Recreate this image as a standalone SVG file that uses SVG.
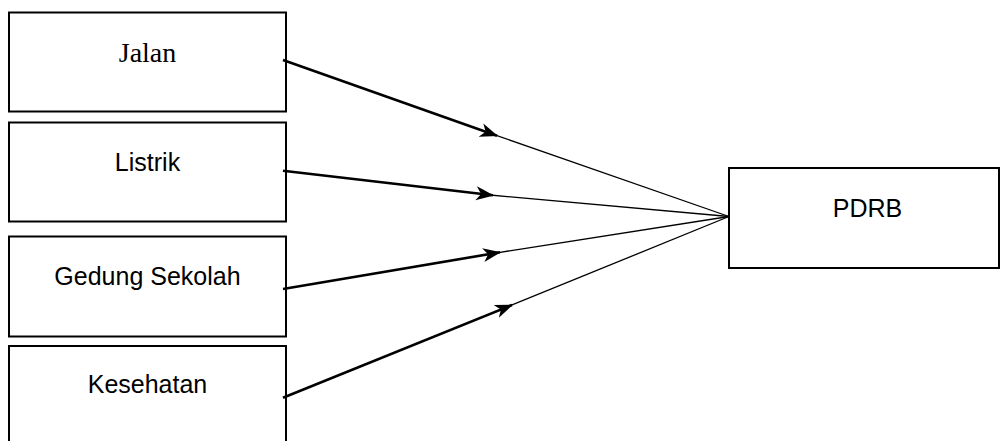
<svg xmlns="http://www.w3.org/2000/svg" width="1001" height="441" viewBox="0 0 1001 441">
<style>
.box{fill:#fff;stroke:#000;stroke-width:2}
.sans{font-family:"Liberation Sans",Arial,sans-serif;font-size:25px;fill:#000}
.serif{font-family:"Liberation Serif","Times New Roman",serif;font-size:28px;fill:#000}
.thick{stroke:#000;stroke-width:2.6;fill:none}
.thin{stroke:#000;stroke-width:1.3;fill:none}
</style>
<defs>
<marker id="arr" markerUnits="userSpaceOnUse" markerWidth="20" markerHeight="16" refX="17" refY="7" orient="auto">
<path d="M0,0 L18,7 L0,14 L5,7 Z" fill="#000"/>
</marker>
</defs>
<rect width="1001" height="441" fill="#fff"/>
<g id="jalan">
<rect class="box" x="9" y="12.5" width="277" height="99"/>
<text class="serif" x="147.5" y="62" text-anchor="middle">Jalan</text>
</g>
<g id="listrik">
<rect class="box" x="9" y="122.5" width="277" height="99"/>
<text class="sans" x="147.5" y="171" text-anchor="middle">Listrik</text>
</g>
<g id="gedung">
<rect class="box" x="9" y="236.5" width="277" height="100"/>
<text class="sans" x="147.5" y="285" text-anchor="middle">Gedung Sekolah</text>
</g>
<g id="kesehatan">
<rect class="box" x="9" y="346" width="277" height="100"/>
<text class="sans" x="147.5" y="393" text-anchor="middle">Kesehatan</text>
</g>
<g id="pdrb">
<rect class="box" x="729" y="168" width="270" height="100"/>
<text class="sans" x="867.5" y="217" text-anchor="middle">PDRB</text>
</g>
<g id="connectors">
<line class="thick" x1="283" y1="60" x2="497" y2="135.7" marker-end="url(#arr)"/>
<line class="thin" x1="494" y1="134.6" x2="729" y2="216.5"/>
<line class="thick" x1="283" y1="170.7" x2="493" y2="195.3" marker-end="url(#arr)"/>
<line class="thin" x1="490" y1="195" x2="729" y2="216.5"/>
<line class="thick" x1="283" y1="289" x2="500" y2="252.3" marker-end="url(#arr)"/>
<line class="thin" x1="497" y1="252.8" x2="729" y2="216.5"/>
<line class="thick" x1="283" y1="397.7" x2="512" y2="305" marker-end="url(#arr)"/>
<line class="thin" x1="509" y1="306.2" x2="729" y2="216.5"/>
</g>
</svg>
